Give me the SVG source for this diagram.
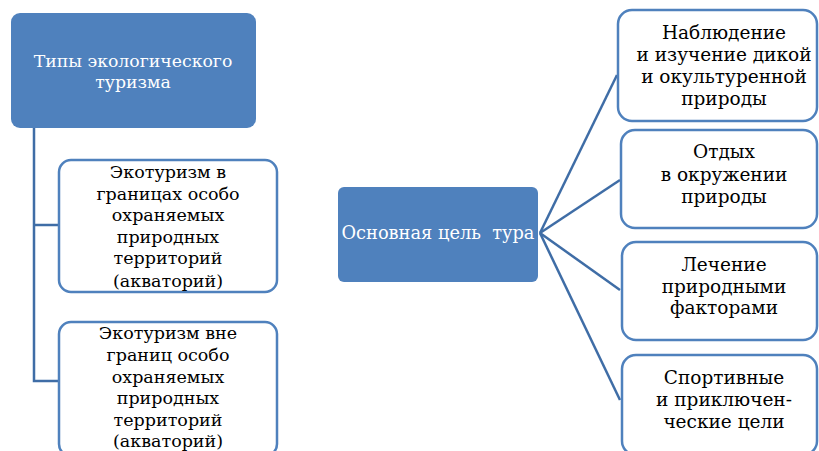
<svg xmlns="http://www.w3.org/2000/svg" width="819" height="451" viewBox="0 0 819 451">
<style>
.solid{fill:#4F81BD;stroke:none}
.box{fill:#ffffff;stroke:#4F81BD;stroke-width:2.5}
text{font-family:'DejaVu Serif',serif;text-anchor:middle;fill:#000}
.w{fill:#ffffff}
.c{stroke:#3F6DA6;stroke-width:2.5;fill:none}
</style>
<rect width="819" height="451" fill="#ffffff"/>
<g id="connectors">
<polyline class="c" points="34,128 34,381 58,381"/>
<line class="c" x1="34" y1="225" x2="58" y2="225"/>
<line class="c" x1="540" y1="233" x2="617" y2="75"/>
<line class="c" x1="540" y1="233" x2="620" y2="180"/>
<line class="c" x1="540" y1="233" x2="620" y2="290"/>
<line class="c" x1="540" y1="233" x2="620" y2="400"/>
</g>
<g id="types">
<rect class="solid" x="11" y="13" width="245" height="115" rx="9"/>
<text class="w" font-size="17.3"><tspan x="133" y="67">Типы экологического</tspan><tspan x="133" y="88">туризма</tspan></text>
</g>
<g id="inside">
<rect class="box" x="59" y="160" width="218" height="132" rx="12"/>
<text font-size="17.5"><tspan x="168" y="178">Экотуризм в</tspan><tspan x="168" y="199.5">границах особо</tspan><tspan x="168" y="221">охраняемых</tspan><tspan x="168" y="242.5">природных</tspan><tspan x="168" y="264">территорий</tspan><tspan x="168" y="287">(акваторий)</tspan></text>
</g>
<g id="outside">
<rect class="box" x="59" y="322" width="218" height="134" rx="12"/>
<text font-size="17.5"><tspan x="168" y="339">Экотуризм вне</tspan><tspan x="168" y="361">границ особо</tspan><tspan x="168" y="383">охраняемых</tspan><tspan x="168" y="404">природных</tspan><tspan x="168" y="426">территорий</tspan><tspan x="168" y="447">(акваторий)</tspan></text>
</g>
<g id="goal">
<rect class="solid" x="338" y="187" width="200" height="95" rx="6"/>
<text class="w" font-size="17.8" x="438" y="239" xml:space="preserve">Основная цель  тура</text>
</g>
<g id="observe">
<rect class="box" x="618" y="10" width="199" height="111" rx="14"/>
<text font-size="18.5"><tspan x="724" y="39">Наблюдение</tspan><tspan x="724" y="61">и изучение дикой</tspan><tspan x="724" y="83">и окультуренной</tspan><tspan x="724" y="105">природы</tspan></text>
</g>
<g id="rest">
<rect class="box" x="621" y="130" width="196" height="98" rx="14"/>
<text font-size="18.5"><tspan x="724" y="158">Отдых</tspan><tspan x="724" y="181">в окружении</tspan><tspan x="724" y="203">природы</tspan></text>
</g>
<g id="healing">
<rect class="box" x="622" y="242" width="195" height="98" rx="14"/>
<text font-size="18.5"><tspan x="724" y="271">Лечение</tspan><tspan x="724" y="293">природными</tspan><tspan x="724" y="314">факторами</tspan></text>
</g>
<g id="sport">
<rect class="box" x="622" y="355" width="195" height="100" rx="14"/>
<text font-size="18.5"><tspan x="724" y="384">Спортивные</tspan><tspan x="724" y="406">и приключен-</tspan><tspan x="724" y="428">ческие цели</tspan></text>
</g>
</svg>
